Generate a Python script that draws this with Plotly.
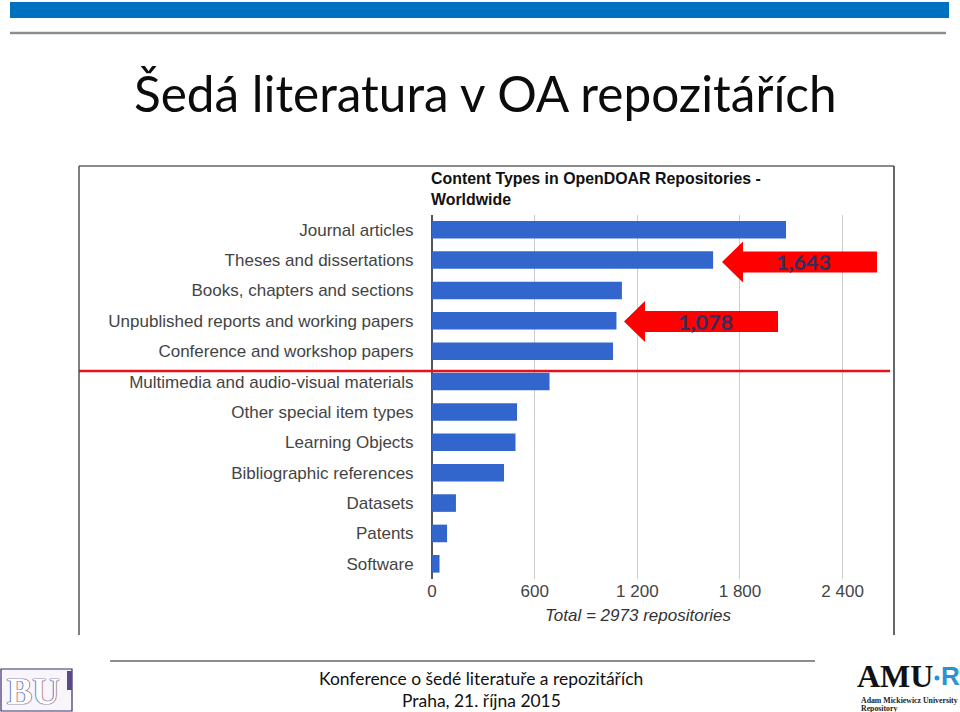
import plotly.graph_objects as go

W, H = 960, 712

categories = ["Journal articles", "Theses and dissertations", "Books, chapters and sections",
              "Unpublished reports and working papers", "Conference and workshop papers",
              "Multimedia and audio-visual materials", "Other special item types", "Learning Objects",
              "Bibliographic references", "Datasets", "Patents", "Software"]
values = [2069, 1643, 1110, 1078, 1058, 687, 497, 488, 421, 140, 88, 44]
x_ticks = [0, 600, 1200, 1800, 2400]
slide_title = "Šedá literatura v OA repozitářích"
chart_title = "Content Types in OpenDOAR Repositories -<br>Worldwide"
axis_note = "Total = 2973 repositories"
callouts = ["1,643", "1,078"]
footer = ["Konference o šedé literatuře a repozitářích", "Praha, 21. října 2015"]


def px(x):
    return x / W


def py(y):
    return 1 - y / H


def rect(x0, y0, x1, y1, color, line=None, lw=0):
    return dict(type="rect", xref="paper", yref="paper", x0=px(x0), x1=px(x1), y0=py(y0), y1=py(y1),
                fillcolor=color, line=dict(color=line or color, width=lw), layer="above")


def hline(x0, x1, y, color, lw):
    return dict(type="line", xref="paper", yref="paper", x0=px(x0), x1=px(x1), y0=py(y), y1=py(y),
                line=dict(color=color, width=lw), layer="above")


def vline(x, y0, y1, color, lw):
    return dict(type="line", xref="paper", yref="paper", x0=px(x), x1=px(x), y0=py(y0), y1=py(y1),
                line=dict(color=color, width=lw), layer="above")


def arrow(tip, base, right, cy, head, shaft):
    pts = [(tip, cy), (base, cy - head), (base, cy - shaft), (right, cy - shaft),
           (right, cy + shaft), (base, cy + shaft), (base, cy + head)]
    path = "M " + " L ".join(f"{px(a):.5f},{py(b):.5f}" for a, b in pts) + " Z"
    return dict(type="path", xref="paper", yref="paper", path=path, fillcolor="#ff0000",
                line=dict(width=0), layer="above")


def label(x, y, text, size, color="#111111", family="Lato", anchor="center", shadow=None, **kw):
    font = dict(size=size, color=color, family=family)
    if shadow:
        font["shadow"] = shadow
    return dict(xref="paper", yref="paper", x=px(x), y=py(y), text=text, showarrow=False,
                xanchor=anchor, yanchor="middle", font=font, **kw)


fig = go.Figure(go.Bar(y=categories, x=values, orientation="h", marker=dict(color="#3366cc", line=dict(width=0)),
                       hoverinfo="skip"))

shapes = [
    rect(10, 2, 949, 18, "#0070c0"),
    hline(10, 946, 33, "#8e8e8e", 2.5),
    hline(79, 894, 166, "#666666", 1.5),
    vline(79, 166, 635, "#555555", 1.5),
    vline(894, 166, 635, "#333333", 1.5),
    hline(79, 890, 371, "#e8101c", 2.5),
    arrow(722, 743, 877, 262, 20.5, 10.5),
    arrow(624, 645, 778, 321.5, 20.5, 10.5),
    hline(110, 815, 661, "#8e8e8e", 2),
    # BU logo
    rect(1, 669, 72, 711, "#f8f6fb", "#3b2a6b", 1.2),
    rect(67, 671, 72, 690, "#5b4a8b"),
    # AMU-R logo dot
    dict(type="circle", xref="paper", yref="paper", x0=px(934.5), x1=px(939.5), y0=py(675.5), y1=py(680.5),
         fillcolor="#2a93d5", line=dict(width=0), layer="above"),
]

annotations = [
    label(485, 93.5, slide_title, 49.5, color="#0c0c0c"),
    label(428.5, 188.5, f"<b>{chart_title}</b>", 15.9, color="#111111", family="Liberation Sans", anchor="left", align="left"),
    label(638, 615, f"<i>{axis_note}</i>", 17, color="#333333", family="Liberation Sans"),
    label(803.5, 262, f"<b>{callouts[0]}</b>", 21.5, color="#33305f"),
    label(705.5, 322, f"<b>{callouts[1]}</b>", 21.5, color="#33305f"),
    label(481, 678, footer[0], 17.45, color="#111111"),
    label(481, 700, footer[1], 17.45, color="#111111"),
    label(33, 691, "<b>BU</b>", 38, color="#ffffff", family="Liberation Serif",
          shadow="0 0 1px #3b2a6b, 0 0 1px #3b2a6b, 0 0 1px #3b2a6b"),
    label(894.5, 675.5, "<b>AMU</b>", 32, color="#111111", family="Liberation Serif"),
    label(950.5, 675.5, "<b>R</b>", 26, color="#2a93d5", family="Liberation Sans"),
    label(859, 700, "<b>Adam Mickiewicz University</b>", 7.8, color="#222222", family="Liberation Serif", anchor="left"),
    label(859, 708.5, "<b>Repository</b>", 7.8, color="#222222", family="Liberation Serif", anchor="left"),
]

fig.update_layout(
    width=W, height=H, margin=dict(l=0, r=0, t=0, b=0, autoexpand=False), paper_bgcolor="white", plot_bgcolor="white",
    showlegend=False, bargap=0.42, separators=", ",
    font=dict(family="Liberation Sans", color="#444444"),
    shapes=shapes, annotations=annotations,
    xaxis=dict(domain=[px(432), px(863)], range=[0, 2519], tickmode="array", tickvals=x_ticks, tickformat=",d",
               showgrid=True, gridcolor="#cccccc", gridwidth=1, zeroline=True, zerolinecolor="#555555", zerolinewidth=1.5,
               showline=False, ticks="", ticklen=0, tickfont=dict(size=17, color="#444444")),
    yaxis=dict(domain=[py(579), py(214.5)], autorange="reversed", showgrid=False, zeroline=False,
               anchor="x", ticks="outside", ticklen=14, tickcolor="rgba(0,0,0,0)",
               tickfont=dict(size=17, color="#444444")),
)

fig.write_html("out.html", post_script="document.body.style.margin='0';", config=dict(displayModeBar=False))
